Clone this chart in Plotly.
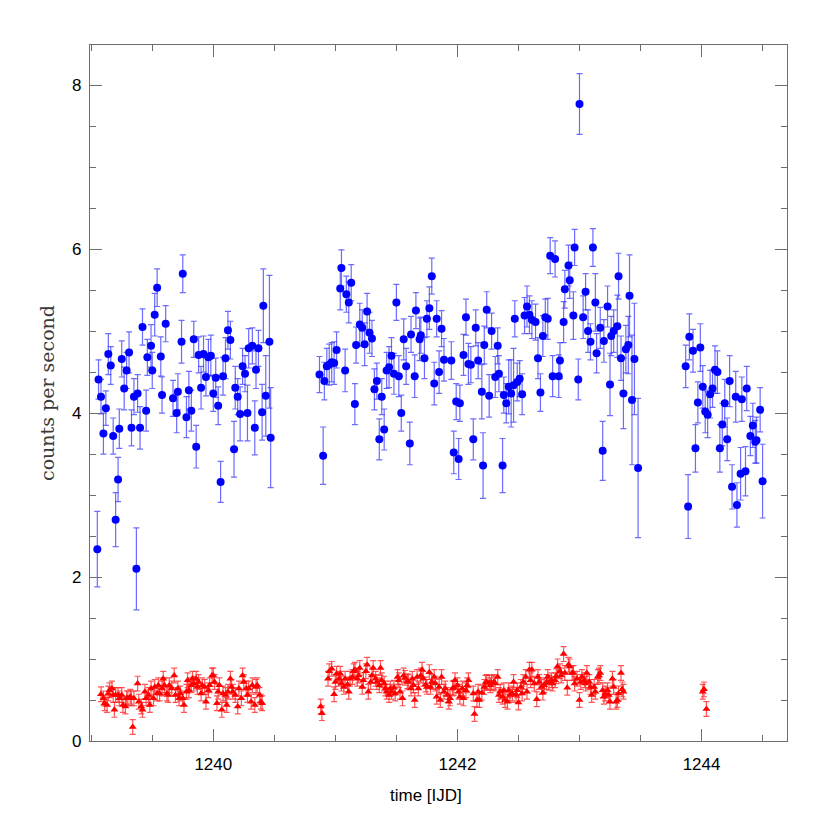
import plotly.graph_objects as go

# ---- blue band (circles) ----
blue_time = [
    1239.05, 1239.06, 1239.08, 1239.10, 1239.12, 1239.14, 1239.16, 1239.18, 1239.20, 1239.22,
    1239.23, 1239.25, 1239.27, 1239.29, 1239.31, 1239.33, 1239.35, 1239.37, 1239.38, 1239.40,
    1239.42, 1239.45, 1239.46, 1239.49, 1239.50, 1239.52, 1239.54, 1239.57, 1239.58, 1239.61,
    1239.67, 1239.70, 1239.71, 1239.74, 1239.75, 1239.78, 1239.80, 1239.82, 1239.84, 1239.86,
    1239.88, 1239.90, 1239.92, 1239.94, 1239.96, 1239.98, 1240.00, 1240.02, 1240.04, 1240.06,
    1240.08, 1240.10, 1240.12, 1240.14, 1240.17, 1240.18, 1240.20, 1240.22, 1240.24, 1240.26,
    1240.28, 1240.29, 1240.32, 1240.34, 1240.35, 1240.37, 1240.40, 1240.41, 1240.43, 1240.46,
    1240.47,
    1240.87, 1240.90, 1240.91, 1240.93, 1240.95, 1240.97, 1240.99, 1241.01, 1241.04, 1241.05,
    1241.08, 1241.09, 1241.11, 1241.13, 1241.16, 1241.17, 1241.20, 1241.22, 1241.24, 1241.26,
    1241.28, 1241.30, 1241.32, 1241.34, 1241.36, 1241.38, 1241.40, 1241.42, 1241.44, 1241.46,
    1241.48, 1241.50, 1241.52, 1241.54, 1241.56, 1241.58, 1241.61, 1241.62, 1241.65, 1241.66,
    1241.69, 1241.70, 1241.73, 1241.75, 1241.77, 1241.79, 1241.81, 1241.83, 1241.85, 1241.87,
    1241.89, 1241.95, 1241.97, 1241.99, 1242.01, 1242.02, 1242.05, 1242.07, 1242.09, 1242.11,
    1242.13, 1242.15, 1242.17, 1242.20, 1242.21, 1242.22, 1242.24, 1242.26, 1242.28, 1242.31,
    1242.33, 1242.34, 1242.37, 1242.38, 1242.40, 1242.42, 1242.44, 1242.46, 1242.47, 1242.49,
    1242.51, 1242.53, 1242.55, 1242.57, 1242.59, 1242.61, 1242.64, 1242.66, 1242.68, 1242.70,
    1242.72, 1242.74, 1242.76, 1242.78, 1242.80, 1242.83, 1242.84, 1242.87, 1242.88, 1242.91,
    1242.92, 1242.95, 1242.96, 1242.99, 1243.00, 1243.03, 1243.05, 1243.07, 1243.09, 1243.11,
    1243.13, 1243.14, 1243.17, 1243.19, 1243.20, 1243.23, 1243.25, 1243.26, 1243.28, 1243.31,
    1243.32, 1243.34, 1243.36, 1243.38, 1243.40, 1243.41, 1243.43, 1243.45, 1243.48,
    1243.87, 1243.89, 1243.90, 1243.93, 1243.95, 1243.97, 1243.99, 1244.01, 1244.03, 1244.05,
    1244.07, 1244.09, 1244.11, 1244.13, 1244.15, 1244.17, 1244.19, 1244.21, 1244.23, 1244.25,
    1244.28, 1244.29, 1244.32, 1244.33, 1244.36, 1244.37, 1244.40, 1244.42, 1244.44, 1244.45,
    1244.48, 1244.50,
]
blue_rate = [
    2.34, 4.41, 4.20, 3.75, 4.06, 4.72, 4.58, 3.72, 2.70, 3.19,
    3.81, 4.66, 4.30, 4.52, 4.74, 3.82, 4.20, 2.10, 4.24, 3.82,
    5.05, 4.03, 4.68, 4.82, 4.52, 5.20, 5.53, 4.69, 4.22, 5.09,
    4.18, 4.00, 4.26, 4.87, 5.70, 3.95, 4.28, 4.03, 4.90, 3.59,
    4.71, 4.31, 4.72, 4.44, 4.68, 4.70, 4.24, 4.43, 4.09, 3.16,
    4.45, 4.67, 5.01, 4.89, 3.56, 4.31, 4.20, 3.99, 4.57, 4.48,
    4.00, 4.79, 4.82, 3.82, 4.53, 4.79, 4.01, 5.31, 4.21, 4.87,
    3.70,
    4.47, 3.48, 4.39, 4.57, 4.59, 4.62, 4.61, 4.77, 5.52, 5.77,
    4.52, 5.45, 5.35, 5.59, 4.11, 4.83, 5.08, 5.04, 4.84, 5.24,
    4.98, 4.91, 4.29, 4.39, 3.68, 4.20, 3.80, 4.52, 4.56, 4.70,
    4.48, 5.35, 4.45, 4.00, 4.90, 4.57, 3.63, 4.96, 4.45, 5.25,
    4.90, 4.95, 4.67, 5.15, 5.28, 5.67, 4.36, 5.15, 4.50, 5.03,
    4.65, 4.64, 3.52, 4.14, 3.44, 4.12, 4.71, 5.17, 4.60, 4.59,
    3.68, 5.04, 4.64, 4.26, 3.36, 4.83, 5.26, 4.21, 5.00, 4.44,
    4.82, 4.48, 3.36, 4.22, 4.12, 4.32, 4.24, 4.34, 5.15, 4.38,
    4.42, 4.23, 5.19, 5.30, 5.20, 5.14, 5.11, 4.67, 4.25, 4.94,
    5.17, 5.15, 5.92, 4.45, 5.88, 4.45, 4.64, 5.11, 5.51, 5.80,
    5.62, 5.19, 6.02, 4.41, 7.77, 5.17, 5.48, 5.00, 4.87, 6.02,
    5.35, 4.73, 5.04, 3.54, 4.88, 5.30, 4.35, 4.94, 5.00, 5.06,
    5.67, 4.67, 4.24, 4.78, 4.83, 5.43, 4.16, 4.66, 3.33,
    4.57, 2.86, 4.93, 4.76, 3.57, 4.13, 4.80, 4.32, 4.02, 3.98,
    4.23, 4.30, 4.53, 4.50, 3.57, 3.86, 4.12, 3.68, 4.39, 3.10,
    4.20, 2.88, 3.26, 4.17, 3.29, 4.30, 3.72, 3.85, 3.65, 3.67,
    4.04, 3.17,
]
blue_err = [
    0.46, 0.24, 0.21, 0.25, 0.21, 0.25, 0.23, 0.22, 0.33, 0.27,
    0.24, 0.22, 0.26, 0.22, 0.25, 0.22, 0.22, 0.50, 0.23, 0.26,
    0.22, 0.25, 0.22, 0.26, 0.22, 0.26, 0.23, 0.24, 0.22, 0.22,
    0.22, 0.24, 0.22, 0.26, 0.23, 0.25, 0.23, 0.25, 0.22, 0.26,
    0.22, 0.26, 0.22, 0.23, 0.22, 0.25, 0.22, 0.24, 0.23, 0.25,
    0.23, 0.25, 0.23, 0.23, 0.34, 0.26, 0.22, 0.33, 0.22, 0.22,
    0.34, 0.24, 0.22, 0.33, 0.23, 0.22, 0.34, 0.45, 0.49, 0.81,
    0.61,
    0.22, 0.35, 0.23, 0.22, 0.25, 0.24, 0.26, 0.22, 0.26, 0.22,
    0.26, 0.22, 0.25, 0.22, 0.25, 0.22, 0.26, 0.22, 0.26, 0.22,
    0.25, 0.22, 0.25, 0.22, 0.25, 0.22, 0.25, 0.22, 0.25, 0.22,
    0.25, 0.22, 0.25, 0.22, 0.25, 0.22, 0.26, 0.22, 0.26, 0.22,
    0.26, 0.22, 0.25, 0.22, 0.26, 0.22, 0.26, 0.22, 0.26, 0.22,
    0.26, 0.23, 0.26, 0.22, 0.25, 0.22, 0.25, 0.22, 0.25, 0.22,
    0.25, 0.22, 0.22, 0.33, 0.40, 0.23, 0.22, 0.26, 0.22, 0.25,
    0.22, 0.22, 0.33, 0.22, 0.24, 0.33, 0.41, 0.45, 0.22, 0.23,
    0.22, 0.25, 0.22, 0.25, 0.23, 0.23, 0.22, 0.25, 0.23, 0.25,
    0.22, 0.25, 0.22, 0.25, 0.22, 0.26, 0.22, 0.25, 0.23, 0.25,
    0.22, 0.29, 0.22, 0.25, 0.37, 0.26, 0.22, 0.26, 0.22, 0.23,
    0.35, 0.24, 0.25, 0.36, 0.26, 0.25, 0.38, 0.24, 0.26, 0.38,
    0.28, 0.27, 0.43, 0.29, 0.35, 0.50, 0.79, 0.68, 0.85,
    0.26, 0.39, 0.28, 0.26, 0.29, 0.25, 0.29, 0.26, 0.26, 0.28,
    0.29, 0.23, 0.29, 0.26, 0.29, 0.26, 0.29, 0.26, 0.31, 0.27,
    0.31, 0.27, 0.32, 0.27, 0.30, 0.27, 0.24, 0.27, 0.26, 0.28,
    0.27, 0.45,
]

# ---- red band (triangles) ----
red_time = [
    1239.08, 1239.10, 1239.11, 1239.13, 1239.14, 1239.15, 1239.17, 1239.18, 1239.19, 1239.20,
    1239.22, 1239.23, 1239.25, 1239.26, 1239.28, 1239.29, 1239.30, 1239.32, 1239.33, 1239.34,
    1239.35, 1239.38, 1239.39, 1239.41, 1239.42, 1239.44, 1239.45, 1239.47, 1239.48, 1239.49,
    1239.51, 1239.52, 1239.54, 1239.55, 1239.56, 1239.58, 1239.59, 1239.60, 1239.62, 1239.63,
    1239.64, 1239.66, 1239.68, 1239.69, 1239.71, 1239.72, 1239.73, 1239.75, 1239.76, 1239.78,
    1239.79, 1239.80, 1239.82, 1239.83, 1239.84, 1239.86, 1239.87, 1239.88, 1239.90, 1239.91,
    1239.93, 1239.94, 1239.96, 1239.97, 1239.99, 1240.00, 1240.01, 1240.03, 1240.04, 1240.05,
    1240.07, 1240.08, 1240.10, 1240.11, 1240.12, 1240.14, 1240.15, 1240.16, 1240.18, 1240.20,
    1240.21, 1240.23, 1240.24, 1240.25, 1240.27, 1240.28, 1240.29, 1240.31, 1240.32, 1240.34,
    1240.35, 1240.36, 1240.38, 1240.39, 1240.40,
    1240.88, 1240.89, 1240.94, 1240.95, 1240.97, 1240.99, 1241.00, 1241.01, 1241.03, 1241.04,
    1241.05, 1241.07, 1241.08, 1241.10, 1241.11, 1241.12, 1241.14, 1241.15, 1241.16, 1241.18,
    1241.19, 1241.20, 1241.22, 1241.23, 1241.25, 1241.26, 1241.27, 1241.29, 1241.30, 1241.31,
    1241.33, 1241.34, 1241.36, 1241.37, 1241.38, 1241.40, 1241.41, 1241.42, 1241.44, 1241.45,
    1241.46, 1241.48, 1241.49, 1241.51, 1241.52, 1241.53, 1241.55, 1241.56, 1241.57, 1241.59,
    1241.60, 1241.62, 1241.63, 1241.64, 1241.65, 1241.67, 1241.68, 1241.70, 1241.71, 1241.72,
    1241.74, 1241.75, 1241.77, 1241.78, 1241.79, 1241.81, 1241.82, 1241.83, 1241.85, 1241.86,
    1241.87, 1241.89, 1241.90, 1241.92, 1241.93, 1241.94, 1241.96, 1241.97, 1241.98, 1242.00,
    1242.01, 1242.02, 1242.04, 1242.05, 1242.07, 1242.08, 1242.09,
    1242.13, 1242.14, 1242.16, 1242.17, 1242.18, 1242.20, 1242.22, 1242.23, 1242.24, 1242.26,
    1242.27, 1242.28, 1242.30, 1242.31, 1242.33, 1242.34, 1242.35, 1242.37, 1242.38, 1242.39,
    1242.41, 1242.42, 1242.43, 1242.45, 1242.46, 1242.48, 1242.49, 1242.50, 1242.52, 1242.53,
    1242.54, 1242.56, 1242.57, 1242.59, 1242.60, 1242.61, 1242.63, 1242.65, 1242.66, 1242.67,
    1242.69, 1242.70, 1242.71, 1242.73, 1242.74, 1242.75, 1242.77, 1242.78, 1242.80, 1242.81,
    1242.82, 1242.84, 1242.85, 1242.87, 1242.88, 1242.90, 1242.91, 1242.92, 1242.94, 1242.95,
    1242.96, 1242.98, 1243.00, 1243.01, 1243.02, 1243.04, 1243.05, 1243.06, 1243.08, 1243.09,
    1243.10, 1243.12, 1243.13, 1243.15, 1243.16, 1243.17, 1243.19, 1243.20, 1243.21, 1243.23,
    1243.24, 1243.25, 1243.27, 1243.28, 1243.30, 1243.31, 1243.32, 1243.34, 1243.35, 1243.36,
    1244.01, 1244.02, 1244.04,
]
red_rate = [
    0.57, 0.52, 0.46, 0.44, 0.58, 0.62, 0.64, 0.56, 0.38, 0.56,
    0.56, 0.52, 0.56, 0.44, 0.42, 0.52, 0.52, 0.54, 0.52, 0.17,
    0.52, 0.70, 0.48, 0.42, 0.38, 0.60, 0.52, 0.56, 0.44, 0.64,
    0.52, 0.66, 0.58, 0.68, 0.58, 0.64, 0.76, 0.68, 0.58, 0.56,
    0.68, 0.64, 0.80, 0.56, 0.64, 0.52, 0.58, 0.52, 0.44, 0.60,
    0.74, 0.62, 0.68, 0.76, 0.70, 0.76, 0.66, 0.72, 0.58, 0.68,
    0.66, 0.48, 0.62, 0.68, 0.80, 0.80, 0.72, 0.46, 0.60, 0.68,
    0.38, 0.58, 0.56, 0.44, 0.60, 0.76, 0.66, 0.60, 0.56, 0.42,
    0.64, 0.52, 0.80, 0.72, 0.64, 0.56, 0.64, 0.48, 0.68, 0.44,
    0.66, 0.68, 0.56, 0.48, 0.46,
    0.42, 0.34, 0.76, 0.85, 0.88, 0.57, 0.72, 0.82, 0.76, 0.82,
    0.70, 0.66, 0.76, 0.69, 0.60, 0.76, 0.78, 0.85, 0.87, 0.76,
    0.80, 0.89, 0.66, 0.74, 0.85, 0.93, 0.60, 0.72, 0.80, 0.89,
    0.76, 0.72, 0.68, 0.89, 0.74, 0.70, 0.64, 0.60, 0.56, 0.64,
    0.60, 0.65, 0.58, 0.78, 0.74, 0.60, 0.52, 0.80, 0.77, 0.73,
    0.72, 0.64, 0.76, 0.68, 0.50, 0.78, 0.64, 0.80, 0.87, 0.76,
    0.69, 0.66, 0.84, 0.66, 0.72, 0.78, 0.70, 0.54, 0.66, 0.50,
    0.78, 0.60, 0.64, 0.56, 0.48, 0.52, 0.64, 0.65, 0.74, 0.68,
    0.60, 0.54, 0.64, 0.52, 0.62, 0.68, 0.74,
    0.58, 0.33, 0.50, 0.60, 0.50, 0.59, 0.66, 0.71, 0.72, 0.71,
    0.68, 0.71, 0.72, 0.70, 0.78, 0.56, 0.60, 0.54, 0.62, 0.50,
    0.48, 0.62, 0.56, 0.58, 0.72, 0.56, 0.62, 0.47, 0.66, 0.58,
    0.72, 0.78, 0.60, 0.87, 0.74, 0.87, 0.70, 0.51, 0.78, 0.72,
    0.66, 0.59, 0.68, 0.72, 0.78, 0.71, 0.74, 0.70, 0.74, 0.79,
    0.91, 0.85, 0.80, 1.06, 0.83, 0.65, 0.93, 0.91, 0.83, 0.83,
    0.70, 0.76, 0.50, 0.72, 0.78, 0.74, 0.70, 0.83, 0.72, 0.66,
    0.56, 0.66, 0.60, 0.78, 0.80, 0.83, 0.62, 0.54, 0.58, 0.62,
    0.56, 0.48, 0.76, 0.66, 0.48, 0.50, 0.58, 0.83, 0.63, 0.60,
    0.60, 0.63, 0.39,
]
RED_ERR = 0.09

X_RANGE = [1238.99, 1244.70]
Y_RANGE = [0, 8.49]

AXIS_GREY = "#6e6e6e"
SANS = "Liberation Sans, Arial, sans-serif"

fig = go.Figure()

fig.add_trace(go.Scatter(
    x=blue_time, y=blue_rate,
    mode="markers", name="high",
    marker=dict(symbol="circle", size=8, color="#0000ff"),
    error_y=dict(type="data", array=blue_err, visible=True,
                 color="rgba(50,50,255,0.72)", thickness=1.2, width=3),
))

fig.add_trace(go.Scatter(
    x=red_time, y=red_rate,
    mode="markers", name="low",
    marker=dict(symbol="triangle-up", size=7, color="#ff0000"),
    error_y=dict(type="constant", value=RED_ERR, visible=True,
                 color="rgba(255,40,40,0.8)", thickness=1.2, width=3),
))

axis_common = dict(
    showgrid=False, zeroline=False,
    showline=True, linecolor=AXIS_GREY, linewidth=1.3, mirror="ticks",
    ticks="inside", ticklen=12, tickwidth=1.3, tickcolor=AXIS_GREY,
    tickfont=dict(family=SANS, size=17, color="black"),
)

# the page body adds an 8px offset, so the figure is 822 px and margins are shifted
fig.update_layout(
    width=822, height=822,
    margin=dict(l=82, r=43, t=37, b=89),
    paper_bgcolor="white", plot_bgcolor="white",
    showlegend=False,
    xaxis=dict(
        range=X_RANGE, tickmode="linear", tick0=1240, dtick=2,
        minor=dict(dtick=0.5, ticklen=6, ticks="inside", tickcolor=AXIS_GREY, tickwidth=1.3),
        ticklabelstandoff=7,
        **axis_common,
    ),
    yaxis=dict(
        range=Y_RANGE, tickmode="linear", tick0=0, dtick=2,
        minor=dict(dtick=0.5, ticklen=6, ticks="inside", tickcolor=AXIS_GREY, tickwidth=1.3),
        ticklabelstandoff=4,
        title=dict(text="counts per second", standoff=12,
                   font=dict(family="DejaVu Serif, serif", size=19, color="#3a3a3a")),
        **axis_common,
    ),
    annotations=[dict(
        text="time [IJD]", xref="paper", yref="paper", x=0.482, y=-0.079,
        xanchor="center", yanchor="middle", showarrow=False,
        font=dict(family=SANS, size=17, color="black"),
    )],
)

fig.write_html("out.html")
